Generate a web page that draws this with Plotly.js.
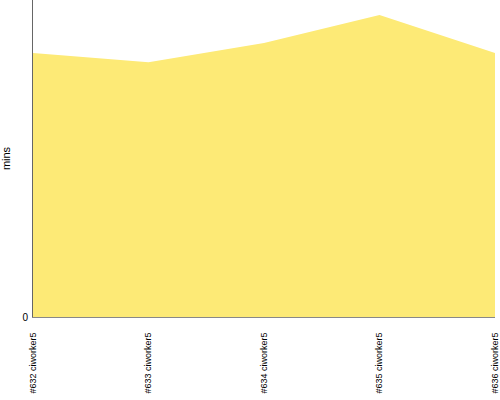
<!DOCTYPE html>
<html><head><meta charset="utf-8">
<script src="https://cdn.plot.ly/plotly-3.0.1.min.js"></script>
<style>html,body{margin:0;padding:0;background:#fff}</style>
</head><body>
<div id="chart" style="width:500px;height:400px"></div>
<script>
const builds = ["#632 ciworker5", "#633 ciworker5", "#634 ciworker5", "#635 ciworker5", "#636 ciworker5"];
const durations = [83.3, 80.4, 86.4, 95.3, 83.3];
const yTicks = [0];

Plotly.newPlot("chart", [{
  type: "scatter",
  mode: "lines",
  x: builds,
  y: durations,
  fill: "tozeroy",
  fillcolor: "rgb(253,234,118)",
  line: {width: 0, color: "rgb(253,234,118)"},
  hoverinfo: "none"
}], {
  width: 500, height: 400,
  margin: {l: 33, r: 5, t: 0, b: 83, pad: 0},
  paper_bgcolor: "#fff", plot_bgcolor: "#fff",
  showlegend: false,
  font: {family: "Liberation Sans, Arial, sans-serif", color: "#000"},
  xaxis: {
    type: "category",
    range: [0, builds.length - 1],
    showgrid: false, zeroline: false,
    showline: true, linecolor: "#888", linewidth: 1,
    ticks: "", tickangle: -90, ticklabelstandoff: 11,
    tickfont: {size: 9, family: "Liberation Sans Narrow, Liberation Sans, sans-serif"}
  },
  yaxis: {
    range: [0, 100],
    tickvals: yTicks, ticktext: yTicks.map(String),
    showgrid: false, zeroline: false,
    showline: true, linecolor: "#666", linewidth: 1,
    ticks: "", tickfont: {size: 10}, ticklabelstandoff: 2,
    title: {text: "mins", font: {size: 11}, standoff: 10}
  }
}, {staticPlot: true, displayModeBar: false});
</script>
</body></html>
